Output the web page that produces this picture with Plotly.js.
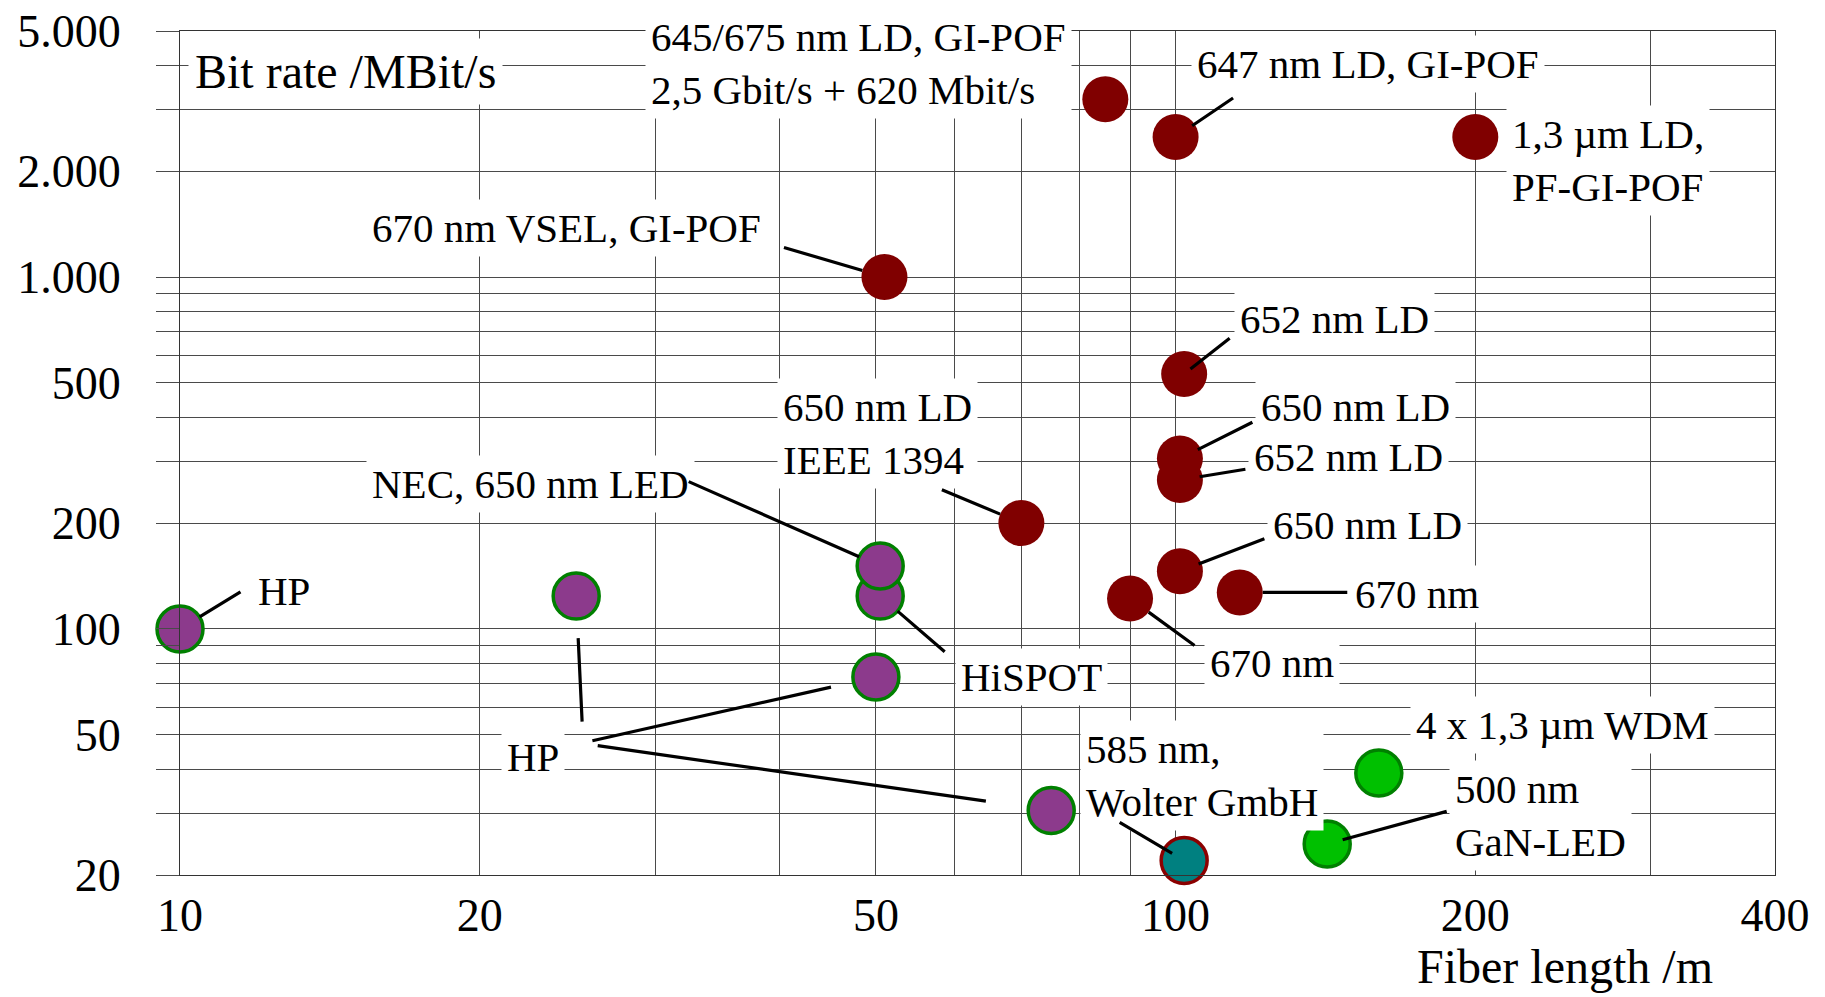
<!DOCTYPE html>
<html>
<head>
<meta charset="utf-8">
<script src="https://cdn.plot.ly/plotly-3.0.1.min.js"></script>
<style>
  html, body { margin: 0; padding: 0; background: #ffffff; }
  #chart { width: 1825px; height: 997px; }
</style>
</head>
<body>
<div id="chart"></div>
<script>
// ---------------- data ----------------
// Laser diodes (dark red)
const ldLength = [85, 100, 200, 51, 102, 101, 101, 70, 101, 116, 90];
const ldRate   = [3200, 2500, 2500, 1000, 530, 305, 265, 200, 146, 127, 122];
// LEDs (purple): HP, HP, HiSPOT, NEC, HP, HP
const ledLength = [10, 25, 50.5, 50.5, 50, 75];
const ledRate   = [100, 124, 124, 151, 73, 30.5];
// 585 nm LED, Wolter GmbH (teal)
const wolterLength = [102];
const wolterRate   = [22];
// 1.3 µm WDM and 500 nm GaN-LED (green)
const greenLength = [160, 142];
const greenRate   = [39, 24.5];

// grid / tick values
const xTickVals = [10, 20, 30, 40, 50, 60, 70, 80, 90, 100, 200, 300, 400];
const xTickText = ["10", "20", "", "", "50", "", "", "", "", "100", "200", "", "400"];
const yTickVals = [20, 30, 40, 50, 60, 70, 80, 90, 100, 200, 300, 400, 500, 600, 700, 800, 900, 1000, 2000, 3000, 4000, 5000];
const yTickText = ["20", "", "", "50", "", "", "", "", "100", "200", "", "", "500", "", "", "", "", "1.000", "2.000", "", "", "5.000"];

// label texts
const labelTexts = [
  "645/675 nm LD, GI-POF<br>2,5 Gbit/s + 620 Mbit/s",
  "647 nm LD, GI-POF",
  "1,3 µm LD,<br>PF-GI-POF",
  "670 nm VSEL, GI-POF",
  "652 nm LD",
  "650 nm LD<br>IEEE 1394",
  "650 nm LD",
  "652 nm LD",
  "NEC, 650 nm LED",
  "650 nm LD",
  "670 nm",
  "HP",
  "670 nm",
  "HiSPOT",
  "HP",
  "585 nm,<br>Wolter GmbH",
  "4 x 1,3 µm WDM",
  "500 nm<br>GaN-LED"
];
const yAxisTitle = "Bit rate /MBit/s";
const xAxisTitle = "Fiber length /m";

// ---------------- layout helpers ----------------
const W = 1825, H = 997, ML = 180, MR = 50, MT = 31, MB = 122;
const PW = W - ML - MR, PH = H - MT - MB;
const px = x => (x - ML) / PW;
const py = y => (H - MB - y) / PH;
const FONT = "Liberation Serif, 'Times New Roman', serif";

// label placement: [left x px, centre y px]
const labelPos = [
  [645, 64], [1191, 64], [1506, 160], [366, 228], [1234, 319],
  [777, 433], [1255, 407], [1248, 457], [366, 484], [1267, 525],
  [1349, 594], [252, 591], [1204, 663], [955, 677], [501, 757],
  [1080, 775], [1410, 725], [1449, 815]
];

const series = {
  ld: [ldLength, ldRate],
  led: [ledLength, ledRate],
  wolter: [wolterLength, wolterRate],
  green: [greenLength, greenRate]
};
// leader lines: [series, index, tail dx px, tail dy px, standoff px]
const leaders = [
  ["ld", 1, 59, -40, 20],
  ["ld", 3, -102, -30, 23],
  ["ld", 4, 47, -37, 8],
  ["ld", 7, -81, -34, 23],
  ["ld", 5, 74, -37, 20],
  ["ld", 6, 67, -11, 20],
  ["led", 3, -193, -85, 23],
  ["ld", 8, 86, -33, 20],
  ["ld", 9, 109, 0, 23],
  ["led", 0, 62, -38, 23],
  ["ld", 10, 66, 48, 23],
  ["led", 2, 66, 57, 23],
  ["led", 1, 6, 127, 42],
  ["led", 4, -285, 64, 46],
  ["led", 5, -455, -65, 66],
  ["wolter", 0, -66, -39, 14],
  ["green", 1, 121, -33, 16]
];

const annotations = [];
labelTexts.forEach((t, i) => {
  annotations.push({
    xref: "paper", yref: "paper",
    x: px(labelPos[i][0]), y: py(labelPos[i][1]),
    xanchor: "left", yanchor: "middle", align: "left",
    text: t, showarrow: false,
    bgcolor: "#ffffff", borderpad: 5,
    font: { family: FONT, size: 41, color: "#000000" }
  });
});
annotations.push({
  xref: "paper", yref: "paper", x: px(188), y: py(72),
  xanchor: "left", yanchor: "middle", text: yAxisTitle, showarrow: false,
  bgcolor: "#ffffff", borderpad: 6,
  font: { family: FONT, size: 48, color: "#000000" }
});
annotations.push({
  xref: "paper", yref: "paper", x: px(1565), y: py(967),
  xanchor: "center", yanchor: "middle", text: xAxisTitle, showarrow: false,
  font: { family: FONT, size: 48, color: "#000000" }
});
leaders.forEach(l => {
  const s = series[l[0]];
  annotations.push({
    xref: "x", yref: "y",
    x: Math.log10(s[0][l[1]]), y: Math.log10(s[1][l[1]]),
    ax: l[2], ay: l[3], axref: "pixel", ayref: "pixel",
    text: "", showarrow: true, arrowhead: 0, arrowwidth: 3.2,
    arrowcolor: "#000000", standoff: l[4]
  });
});

const MS = 46;
const traces = [
  {
    type: "scatter", mode: "markers", x: ldLength, y: ldRate, cliponaxis: false,
    marker: { size: MS, color: "#800000", line: { width: 0 } }
  },
  {
    type: "scatter", mode: "markers", x: ledLength, y: ledRate, cliponaxis: false,
    marker: { size: MS, color: "#8c3a8c", line: { width: 3.5, color: "#008000" } }
  },
  {
    type: "scatter", mode: "markers", x: wolterLength, y: wolterRate, cliponaxis: false,
    marker: { size: MS, color: "#008080", line: { width: 3.5, color: "#8b0000" } }
  },
  {
    type: "scatter", mode: "markers", x: greenLength, y: greenRate, cliponaxis: false,
    marker: { size: MS, color: "#00c000", line: { width: 3.5, color: "#008000" } }
  }
];

const layout = {
  width: W, height: H,
  margin: { l: ML, r: MR, t: MT, b: MB, pad: 0 },
  paper_bgcolor: "#ffffff", plot_bgcolor: "#ffffff",
  showlegend: false,
  font: { family: FONT, color: "#000000" },
  xaxis: {
    type: "log", range: [Math.log10(10), Math.log10(400)],
    tickmode: "array", tickvals: xTickVals, ticktext: xTickText,
    showgrid: true, gridcolor: "#4a4a4a", gridwidth: 1,
    ticks: "", ticklabelstandoff: 0,
    showline: true, linecolor: "#333333", linewidth: 1, mirror: true,
    zeroline: false,
    tickfont: { family: FONT, size: 46, color: "#000000" }
  },
  yaxis: {
    type: "log", range: [Math.log10(20), Math.log10(5000)],
    tickmode: "array", tickvals: yTickVals, ticktext: yTickText,
    showgrid: true, gridcolor: "#4a4a4a", gridwidth: 1,
    ticks: "outside", ticklen: 23, tickcolor: "#4a4a4a", tickwidth: 1,
    ticklabelstandoff: 26,
    showline: true, linecolor: "#333333", linewidth: 1, mirror: true,
    zeroline: false,
    tickfont: { family: FONT, size: 46, color: "#000000" }
  },
  annotations: annotations
};

Plotly.newPlot("chart", traces, layout, { displayModeBar: false, staticPlot: true });
</script>
</body>
</html>
